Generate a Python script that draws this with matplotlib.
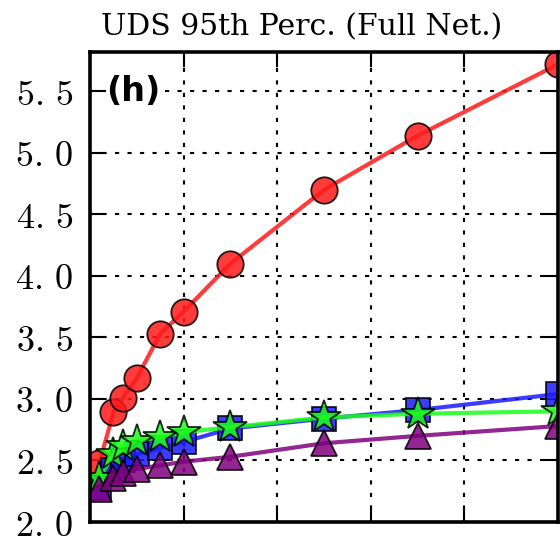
import numpy as np
import matplotlib
matplotlib.use('Agg')
import matplotlib.pyplot as plt

# ==========================================================
# Datos
# ==========================================================
x_vals = [1, 2.5, 3.5, 5, 7.5, 10, 15, 25, 35, 50]
red_vals = [2.48, 2.89, 3.01, 3.17, 3.53, 3.71, 4.10, 4.70, 5.14, 5.72]
blue_vals = [2.28, 2.42, 2.50, 2.55, 2.60, 2.65, 2.76, 2.84, 2.91, 3.04]
green_vals = [2.36, 2.55, 2.62, 2.66, 2.69, 2.73, 2.77, 2.85, 2.88, 2.90]
purple_vals = [2.27, 2.36, 2.40, 2.43, 2.46, 2.49, 2.53, 2.64, 2.70, 2.78]

y_ticks = [2.0, 2.5, 3.0, 3.5, 4.0, 4.5, 5.0, 5.5]
y_tick_labels = ['$2.\\,0$', '$2.\\,5$', '$3.\\,0$', '$3.\\,5$',
                 '$4.\\,0$', '$4.\\,5$', '$5.\\,0$', '$5.\\,5$']
x_ticks = [0, 10, 20, 30, 40, 50]

title = 'UDS 95th Perc. (Full Net.)'
panel_label = '(h)'

# ==========================================================
# Figura
# ==========================================================
plt.rcParams['mathtext.fontset'] = 'cm'

fig = plt.figure(figsize=(5.6, 5.36), dpi=100)
ax = fig.add_axes([90 / 560, 14 / 536, 468 / 560, 470 / 536])

series = [
    (red_vals, '#ff1a1a', 'o', 19),
    (blue_vals, '#1a1aff', 's', 17),
    (green_vals, '#1aff1a', '*', 25),
    (purple_vals, '#800080', '^', 19),
]
for vals, col, mk, ms in series:
    ax.plot(x_vals, vals, color=col, linewidth=3.0, alpha=0.85,
            marker=mk, markersize=ms, markerfacecolor=col,
            markeredgecolor='black', markeredgewidth=1.3)

ax.set_xlim(0, 50)
ax.set_ylim(2.0, 5.82)
ax.set_xticks(x_ticks)
ax.set_yticks(y_ticks)
ax.set_yticklabels(y_tick_labels, fontsize=26)
ax.tick_params(axis='both', which='major', direction='in', length=11, width=1.5,
               top=True, right=True, labelbottom=False, pad=12)
ax.grid(True, color='black', linestyle=(0, (2, 4)), linewidth=1.5)

for sp in ax.spines.values():
    sp.set_linewidth(2.6)

# el título está algo desplazado a la izquierda en el original
ax.set_title(title, fontsize=21.5, family='DejaVu Serif', pad=12, x=0.453)
ax.text(0.035, 0.915, panel_label, transform=ax.transAxes, fontsize=24,
        fontweight='bold', va='center', ha='left', zorder=5,
        bbox=dict(facecolor='white', edgecolor='none', pad=0.5))

fig.savefig('out.png', dpi=100)
